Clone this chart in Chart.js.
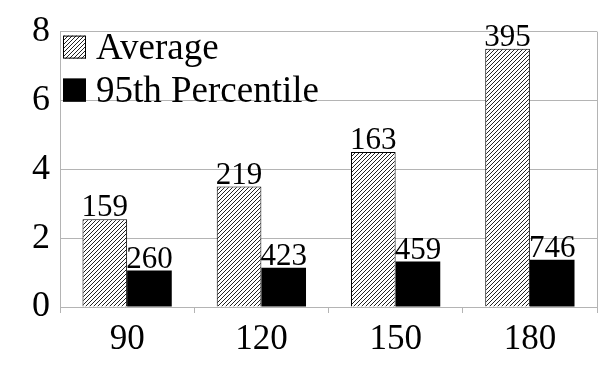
<!DOCTYPE html>
<html>
<head>
<meta charset="utf-8">
<script src="https://cdn.jsdelivr.net/npm/chart.js@4"></script>
<style>
  html, body { margin: 0; padding: 0; background: #fff; }
  #wrap { width: 609px; height: 365px; }
</style>
</head>
<body>
<div id="wrap"><canvas id="bar-chart"></canvas></div>
<script>
// data
const categories = ["90", "120", "150", "180"];
const averageValues = [2.55, 3.5, 4.5, 7.5];
const percentileValues = [1.06, 1.14, 1.32, 1.37];
const averageLabels = ["159", "219", "163", "395"];
const percentileLabels = ["260", "423", "459", "746"];
const yTicks = [0, 2, 4, 6, 8];

const FONT = "'Liberation Serif', 'Times New Roman', serif";
const GRID = "#b4b4b4";

// hatch pattern for the average bars
function makeHatch() {
    const s = 4;
    const c = document.createElement("canvas");
    c.width = s; c.height = s;
    const g = c.getContext("2d");
    g.fillStyle = "#fff";
    g.fillRect(0, 0, s, s);
    g.strokeStyle = "#222";
    g.lineWidth = 1;
    g.beginPath();
    g.moveTo(0, s); g.lineTo(s, 0);
    g.moveTo(-1, 1); g.lineTo(1, -1);
    g.moveTo(s - 1, s + 1); g.lineTo(s + 1, s - 1);
    g.stroke();
    return g.createPattern(c, "repeat");
}
const hatch = makeHatch();

// numbers over each bar
const barLabels = {
    id: "barLabels",
    afterDatasetsDraw(chart) {
        const ctx = chart.ctx;
        const texts = [averageLabels, percentileLabels];
        ctx.save();
        ctx.fillStyle = "#000";
        ctx.font = "31px " + FONT;
        ctx.textAlign = "center";
        ctx.textBaseline = "alphabetic";
        chart.data.datasets.forEach((ds, i) => {
            chart.getDatasetMeta(i).data.forEach((bar, j) => {
                ctx.fillText(texts[i][j], bar.x, bar.y - 3);
            });
        });
        ctx.restore();
    }
};

// right frame line
const rightFrame = {
    id: "rightFrame",
    beforeDatasetsDraw(chart) {
        const a = chart.chartArea;
        const ctx = chart.ctx;
        ctx.save();
        ctx.strokeStyle = GRID;
        ctx.lineWidth = 1;
        ctx.beginPath();
        ctx.moveTo(Math.round(a.right) + 0.5, a.top);
        ctx.lineTo(Math.round(a.right) + 0.5, a.bottom + 6);
        ctx.stroke();
        ctx.restore();
    }
};

// legend inside the plot, top left
const innerLegend = {
    id: "innerLegend",
    afterDraw(chart) {
        const a = chart.chartArea;
        const ctx = chart.ctx;
        ctx.save();
        ctx.font = "37px " + FONT;
        ctx.textBaseline = "alphabetic";
        ctx.textAlign = "left";
        chart.data.datasets.forEach((ds, i) => {
            const x = a.left + 3;
            const y = a.top + 4 + i * 43;
            ctx.fillStyle = ds.backgroundColor;
            ctx.fillRect(x, y, 23, 23);
            ctx.strokeStyle = "#000";
            ctx.lineWidth = 1;
            ctx.strokeRect(x + 0.5, y + 0.5, 22, 22);
            ctx.fillStyle = "#000";
            ctx.fillText(ds.label, x + 33, y + 23);
        });
        ctx.restore();
    }
};

new Chart(document.getElementById("bar-chart"), {
    type: "bar",
    data: {
        labels: categories,
        datasets: [
            {
                label: "Average",
                data: averageValues,
                backgroundColor: hatch,
                borderColor: "#000",
                borderWidth: 1
            },
            {
                label: "95th Percentile",
                data: percentileValues,
                backgroundColor: "#000",
                borderColor: "#000",
                borderWidth: 0
            }
        ]
    },
    plugins: [rightFrame, barLabels, innerLegend],
    options: {
        responsive: true,
        maintainAspectRatio: false,
        animation: false,
        layout: { padding: { top: 29, right: 12, left: 0, bottom: 0 } },
        datasets: {
            bar: { barPercentage: 1, categoryPercentage: 0.665 }
        },
        plugins: {
            tooltip: { enabled: false },
            legend: { display: false }
        },
        scales: {
            x: {
                offset: true,
                afterFit: (s) => { s.height = 58; },
                grid: {
                    offset: true,
                    drawOnChartArea: false,
                    color: GRID,
                    tickLength: 6
                },
                border: { color: GRID },
                ticks: {
                    color: "#000",
                    font: { family: FONT, size: 35 },
                    padding: 6
                }
            },
            y: {
                min: 0,
                max: 8,
                afterFit: (s) => { s.width = 60; },
                afterBuildTicks: (s) => { s.ticks = yTicks.map(v => ({ value: v })); },
                grid: { color: GRID, drawTicks: false },
                border: { color: GRID },
                ticks: {
                    color: "#000",
                    font: { family: FONT, size: 36 },
                    padding: 10
                }
            }
        }
    }
});
</script>
</body>
</html>
